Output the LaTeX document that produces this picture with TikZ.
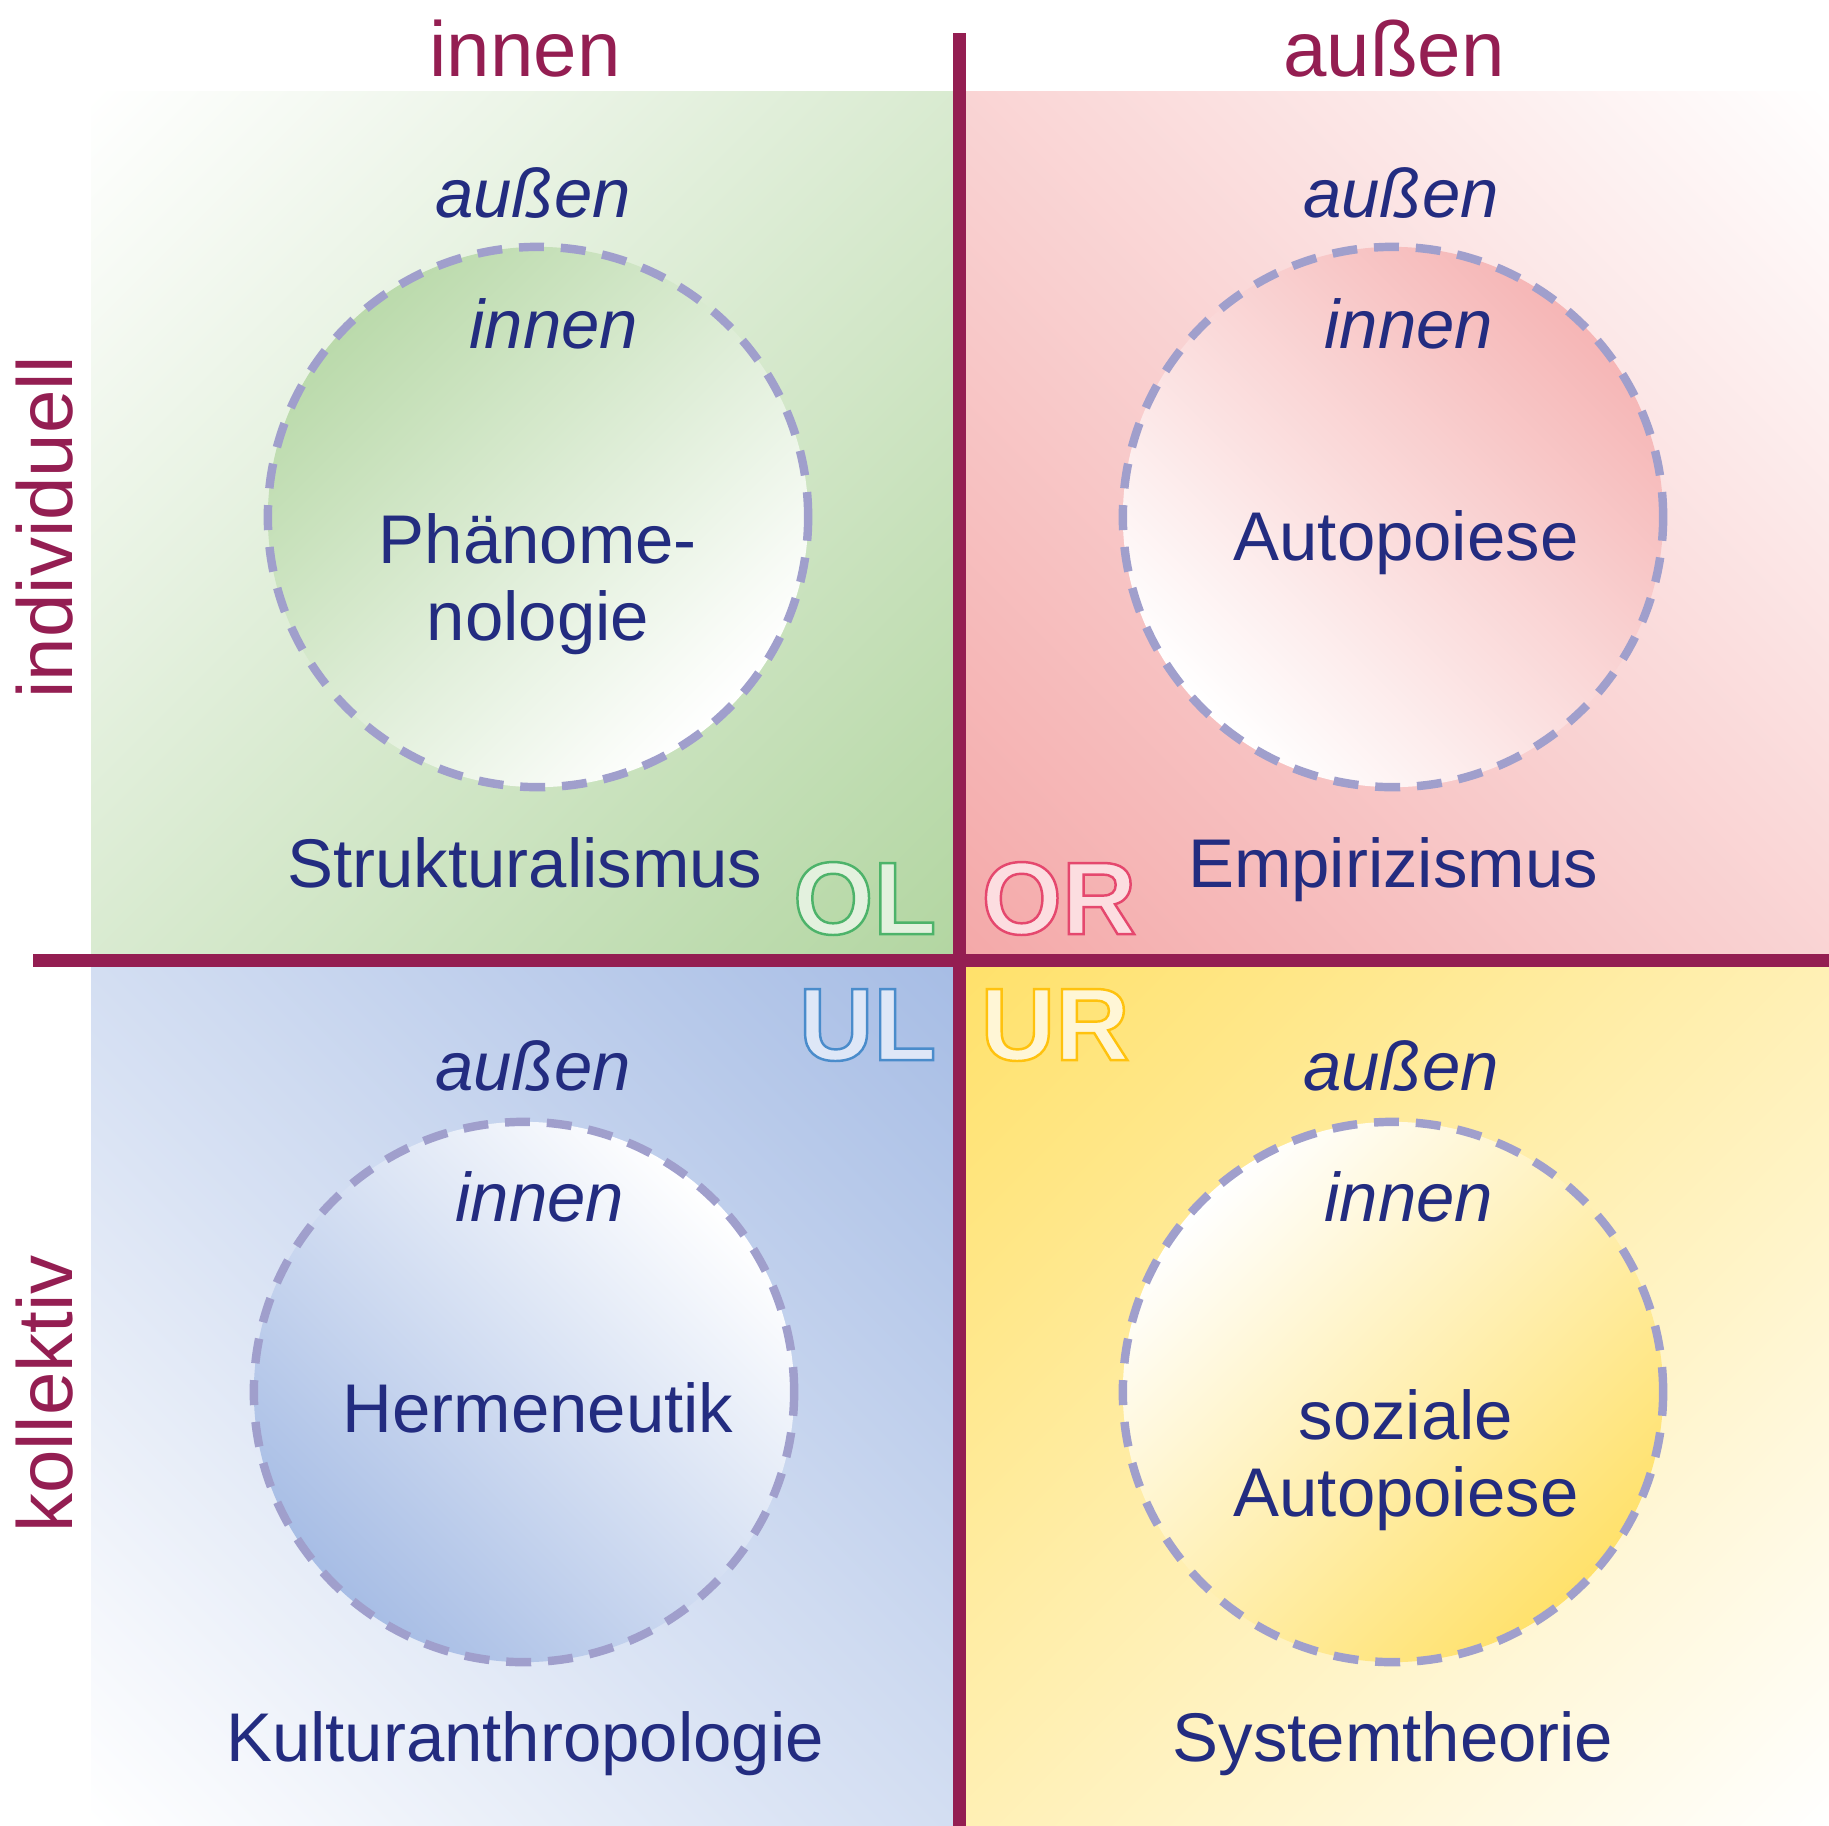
\documentclass[tikz,border=0pt]{standalone}
\usepackage{fontspec}
\setmainfont{Liberation Sans}
\definecolor{axiscol}{HTML}{941E52}
\definecolor{navy}{HTML}{232C80}
\definecolor{dashcol}{HTML}{A09FCC}
\definecolor{qgreen}{HTML}{B3D6A2}
\definecolor{qpink}{HTML}{F4A9A9}
\definecolor{qblue}{HTML}{A7BDE5}
\definecolor{qyellow}{HTML}{FFE16B}
\definecolor{olfill}{HTML}{E3F1DE}
\definecolor{orfill}{HTML}{FCDDE0}
\definecolor{ulfill}{HTML}{DEE7F7}
\definecolor{urfill}{HTML}{FFF6D6}
\pgfdeclareverticalshading{fadegreen}{100bp}{color(0bp)=(white); color(14.6bp)=(white); color(85.4bp)=(qgreen); color(100bp)=(qgreen)}
\pgfdeclareverticalshading{fadepink}{100bp}{color(0bp)=(white); color(14.6bp)=(white); color(85.4bp)=(qpink); color(100bp)=(qpink)}
\pgfdeclareverticalshading{fadeblue}{100bp}{color(0bp)=(white); color(14.6bp)=(white); color(85.4bp)=(qblue); color(100bp)=(qblue)}
\pgfdeclareverticalshading{fadeyellow}{100bp}{color(0bp)=(white); color(14.6bp)=(white); color(85.4bp)=(qyellow); color(100bp)=(qyellow)}
\tikzset{
  axis/.style={draw=axiscol, line width=3.7pt},
  head/.style={text=axiscol, font=\fontsize{22.2}{26}\selectfont, anchor=base, inner sep=0pt},
  txt/.style={text=navy, font=\fontsize{19.6}{22.2}\selectfont, anchor=base, inner sep=0pt, align=center},
  itxt/.style={txt, font=\fontsize{19.6}{22.2}\selectfont\itshape},
  ring/.style={circle, minimum size=5.40cm, inner sep=0pt, draw=dashcol, line width=2.4pt,
    dash pattern=on 7.1pt off 4.8pt},
  tag/.style={font=\fontsize{29.3}{32}\selectfont\bfseries, inner sep=0pt}
}
\newcommand{\tagtext}[3]{{\color{#1}\special{pdf:literal direct q #2 RG 0.7 w 2 Tr}#3\special{pdf:literal direct Q}}}
\begin{document}
\begin{tikzpicture}[x=0.01cm,y=-0.01cm]
  \useasboundingbox (0,0) rectangle (1829,1826);
  \shade[shading=fadegreen, shading angle=-135] (91,91) rectangle (953,954);
  \shade[shading=fadepink, shading angle=135] (966,91) rectangle (1829,954);
  \shade[shading=fadeblue, shading angle=-45] (91,967) rectangle (953,1826);
  \shade[shading=fadeyellow, shading angle=45] (966,967) rectangle (1829,1826);

  \node[ring, top color=qgreen!90!white, bottom color=white, shading angle=45] (ringol) at (538,517) {};
  \node[ring, top color=qpink!85!white, bottom color=white, shading angle=-45] (ringor) at (1393,517) {};
  \node[ring, top color=white, bottom color=qblue, shading angle=-45] (ringul) at (524,1392) {};
  \node[ring, top color=white, bottom color=qyellow, shading angle=45] (ringur) at (1393,1392) {};

  \draw[axis] (33,960.5) coordinate (west) -- (1829,960.5) coordinate (east);
  \draw[axis] (959.5,33) coordinate (north) -- (959.5,1826) coordinate (south);

  \node[head] (hinnen) at (525,76) {innen};
  \node[head] (haussen) at (1394,76) {außen};
  \node[head, rotate=90] (hind) at (73,527) {individuell};
  \node[head, rotate=90] (hkoll) at (73,1394) {kollektiv};

  \node[itxt] (olout) at (533,217) {außen};
  \node[itxt] (olin) at (554,348) {innen};
  \node[txt] (olmid) at (538,640) {Phänome-\\[-0.3pt]nologie};
  \node[txt] (olbot) at (525,887) {Strukturalismus};

  \node[itxt] (orout) at (1401,217) {außen};
  \node[itxt] (orin) at (1409,348) {innen};
  \node[txt] (ormid) at (1406,560) {Autopoiese};
  \node[txt] (orbot) at (1393,887) {Empirizismus};

  \node[itxt] (ulout) at (533,1090) {außen};
  \node[itxt] (ulin) at (540,1221) {innen};
  \node[txt] (ulmid) at (538,1432) {Hermeneutik};
  \node[txt] (ulbot) at (525,1761) {Kulturanthropologie};

  \node[itxt] (urout) at (1401,1090) {außen};
  \node[itxt] (urin) at (1409,1221) {innen};
  \node[txt] (urmid) at (1406,1516) {soziale\\[-0.3pt]Autopoiese};
  \node[txt] (urbot) at (1393,1761) {Systemtheorie};

  \node[tag, anchor=base east] (tagol) at (937,934) {\tagtext{olfill}{0.302 0.702 0.416}{OL}};
  \node[tag, anchor=base west] (tagor) at (981,934) {\tagtext{orfill}{0.898 0.282 0.431}{OR}};
  \node[tag, anchor=base east] (tagul) at (937,1060) {\tagtext{ulfill}{0.290 0.549 0.796}{UL}};
  \node[tag, anchor=base west] (tagur) at (980,1060) {\tagtext{urfill}{1 0.761 0.055}{UR}};
\end{tikzpicture}
\end{document}
